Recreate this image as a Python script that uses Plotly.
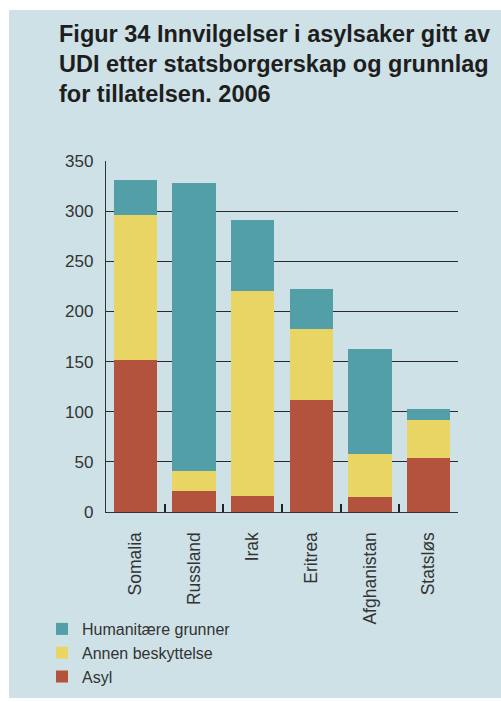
import plotly.graph_objects as go

categories = ["Somalia", "Russland", "Irak", "Eritrea", "Afghanistan", "Statsløs"]
asyl = [152, 21, 16, 112, 15, 54]
annen = [144, 20, 204, 70, 43, 38]
humanitaere = [35, 287, 71, 40, 105, 11]
series_names = ["Asyl", "Annen beskyttelse", "Humanitære grunner"]
series_colors = ["#b4533d", "#e8d564", "#529fa7"]
y_ticks = [0, 50, 100, 150, 200, 250, 300, 350]
title_lines = ["Figur 34 Innvilgelser i asylsaker gitt av",
               "UDI etter statsborgerskap og grunnlag",
               "for tillatelsen. 2006"]

W, H = 501, 702
L, R, T, B = 106, 43, 161, 190
PW, PH = W - L - R, H - T - B


def px_x(px):
    return (px - L) / PW


def px_y(py):
    return (H - B - py) / PH


fig = go.Figure()
for name, vals, col in zip(series_names, [asyl, annen, humanitaere], series_colors):
    fig.add_trace(go.Bar(x=categories, y=vals, name=name,
                         marker=dict(color=col, line=dict(width=0))))

BG = "#cde1e6"
fig.add_shape(type="rect", xref="paper", yref="paper", layer="below",
              x0=px_x(9), x1=px_x(W + 5), y0=px_y(698), y1=px_y(10),
              fillcolor=BG, line=dict(width=0))

annotations = []
for i, line in enumerate(title_lines):
    annotations.append(dict(text="<b>" + line + "</b>", xref="paper", yref="paper",
                            x=px_x(57), y=px_y(34 + 30 * i), xanchor="left", yanchor="middle",
                            showarrow=False,
                            font=dict(family="Liberation Sans, Arial", size=23.5, color="#1e1e1e")))

fig.update_layout(
    width=W, height=H,
    margin=dict(l=L, r=R, t=T, b=B, autoexpand=False),
    paper_bgcolor="white",
    plot_bgcolor="rgba(0,0,0,0)",
    barmode="stack",
    bargap=0.265,
    annotations=annotations,
    font=dict(family="Liberation Sans, Arial", color="#333333"),
    legend=dict(xref="container", yref="container", x=42 / W, y=1 - 612 / H,
                xanchor="left", yanchor="top",
                traceorder="reversed", bgcolor="rgba(0,0,0,0)",
                font=dict(size=16, color="#333333"), itemwidth=30),
    xaxis=dict(showline=True, linecolor="#333333", linewidth=1.3, automargin=False,
               ticks="inside", tickson="boundaries", ticklen=8, tickcolor="#222222", tickwidth=1.5,
               tickangle=-90, tickfont=dict(size=17.5, color="#333333"),
               ticklabelstandoff=12, showgrid=False),
    yaxis=dict(range=[0, 350], tickvals=y_ticks, showgrid=True, gridcolor="#2a2a2a", gridwidth=1.3,
               showline=True, linecolor="#333333", linewidth=1.3, zeroline=False, automargin=False,
               tickfont=dict(size=17, color="#333333"), ticklabelstandoff=8),
)

fig.write_html("out.html")
